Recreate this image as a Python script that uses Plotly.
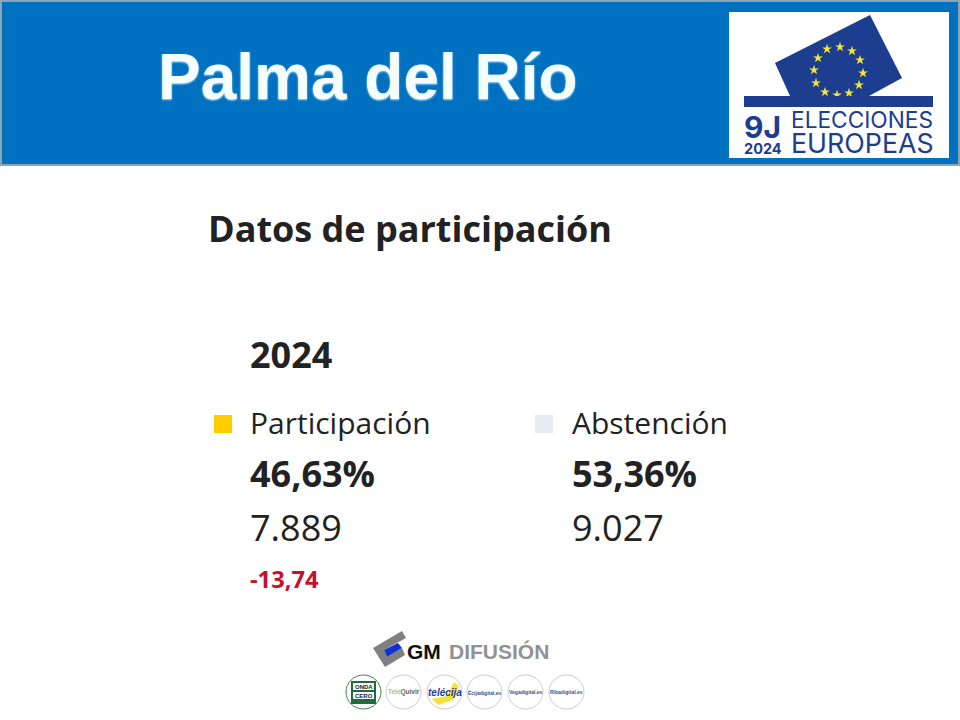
import plotly.graph_objects as go

# ------------------ DATA ------------------
town = "Palma del Río"
section_title = "Datos de participación"
year = "2024"
labels = ["Participación", "Abstención"]
percents = ["46,63%", "53,36%"]
votes = ["7.889", "9.027"]
change = "-13,74"
square_colors = ["#FFCC00", "#E8ECF4"]

# logo decoration
star_x = [840, 852, 860, 863, 859, 849, 837, 825, 816, 814, 818, 827]
star_y = [47, 51, 60, 73, 85, 93, 95, 92, 83, 70, 58, 49]
badge_x = [363.5, 403.5, 444.5, 484.5, 525.5, 566.5]
badge_text = ["", "<span style='color:#B5BC70'>Tele</span>Quivir", "telécija",
              "Écijadigital.es", "Vegadigital.es", "Ribadigital.es"]
badge_text_color = ["#1f6b3a", "#66664A", "#1c3f95", "#33508f", "#33508f", "#33508f"]
badge_size = [5, 6.5, 10, 5, 5, 5]

NAVY = "#1D3D8F"

# ------------------ FIGURE ------------------
fig = go.Figure()


def text(x, y, s, size, color="#222222", family="Open Sans", bold=False, anchor="left", **kw):
    fig.add_annotation(
        x=x, y=y, text=f"<b>{s}</b>" if bold else s,
        xref="x", yref="y", xanchor=anchor, yanchor="middle", align="left", showarrow=False,
        font=dict(size=size, color=color, family=family, **kw),
    )


def poly(points, color, layer="below"):
    path = "M " + " L ".join(f"{a},{b}" for a, b in points) + " Z"
    fig.add_shape(type="path", path=path, fillcolor=color, line_width=0, layer=layer)


# ------------------ HEADER ------------------
fig.add_shape(type="rect", x0=1, y0=1, x1=959, y1=165, fillcolor="#0070C0",
              line=dict(color="#8AA5B5", width=2), layer="below")
fig.add_shape(type="rect", x0=729, y0=12, x1=949, y1=158, fillcolor="white", line_width=0, layer="below")
text(156, 77, town, 64, color="#F4FDFF", family="Liberation Sans", bold=True, shadow="0 1px 2px #A8E0F5")

# EU ballot logo
poly([(775, 63), (870, 15), (902, 78), (869, 96), (790, 96)], NAVY)
fig.add_trace(go.Scatter(
    x=star_x, y=star_y, mode="markers", hoverinfo="skip", showlegend=False,
    marker=dict(symbol="star", size=7.5, color="#F4E33A"),
))
fig.add_shape(type="rect", x0=744, y0=96, x1=933, y1=107, fillcolor=NAVY, line_width=0, layer="above")
# small base font keeps the two logo lines as tight as in the original
text(742, 133, "<span style='font-size:30px'>9J</span><br><span style='font-size:14.5px'>2024</span>",
     12.5, color=NAVY, family="Inter", bold=True)
text(789, 132.5, "<span style='font-size:22.7px'>ELECCIONES</span><br><span style='font-size:26.8px'>EUROPEAS</span>",
     19, color=NAVY, family="Inter")

# ------------------ CONTENT ------------------
text(206, 228, section_title, 36, bold=True)
text(248, 354, year, 36, bold=True)

col_x = [248, 570]
square_x = [223, 544]
fig.add_trace(go.Scatter(
    x=square_x, y=[424, 424], mode="markers", hoverinfo="skip", showlegend=False,
    marker=dict(symbol="square", size=18, color=square_colors),
))
for i in range(2):
    text(col_x[i], 422, labels[i], 30)
    text(col_x[i], 473, percents[i], 36, bold=True)
    text(col_x[i], 527, votes[i], 36)
text(col_x[0], 579, change, 23.7, color="#C8102E", bold=True)

# ------------------ FOOTER LOGOS ------------------
poly([(373, 648), (402, 631), (406, 638), (384, 650), (387, 657), (402, 648), (405, 655), (385, 667)], "#808080")
poly([(384, 650), (398, 643), (402, 648), (387, 657)], "#1030D0")
text(405, 651, "GM", 21, color="#111111", family="Liberation Sans", bold=True)
text(447, 651, "DIFUSIÓN", 21, color="#929292", family="Liberation Sans", bold=True)

poly([(432, 699), (447, 696), (454, 682), (459, 686), (453, 700), (438, 705)], "#F5E33C")
for i in range(6):
    edge = "#3A8A50" if i == 0 else "#CCCCCC"
    fig.add_shape(type="circle", x0=badge_x[i] - 17.5, y0=675, x1=badge_x[i] + 17.5, y1=709,
                  line=dict(color=edge, width=1), layer="below")
    if badge_text[i]:
        style = "italic" if i == 2 else "normal"
        text(badge_x[i], 692, badge_text[i], badge_size[i], color=badge_text_color[i],
             family="Liberation Sans", bold=True, anchor="center", style=style)
fig.add_shape(type="rect", x0=351, y0=681, x1=376, y1=704, fillcolor="#1f6b3a", line_width=0, layer="below")
fig.add_shape(type="rect", x0=353, y0=683, x1=374, y1=690, fillcolor="white", line_width=0, layer="below")
fig.add_shape(type="rect", x0=353, y0=692, x1=374, y1=699, fillcolor="white", line_width=0, layer="below")
text(363.5, 686.5, "ONDA", 6, color="#123", family="Liberation Sans", bold=True, anchor="center")
text(363.5, 695.5, "CERO", 6, color="#123", family="Liberation Sans", bold=True, anchor="center")

# ------------------ LAYOUT ------------------
fig.update_layout(
    width=960, height=720, margin=dict(t=0, b=0, l=0, r=0),
    paper_bgcolor="white", plot_bgcolor="white", showlegend=False,
    xaxis=dict(range=[0, 960], visible=False, fixedrange=True),
    yaxis=dict(range=[720, 0], visible=False, fixedrange=True),
)

fig.write_html("out.html", config={"displayModeBar": False}, post_script="document.body.style.margin='0';")
